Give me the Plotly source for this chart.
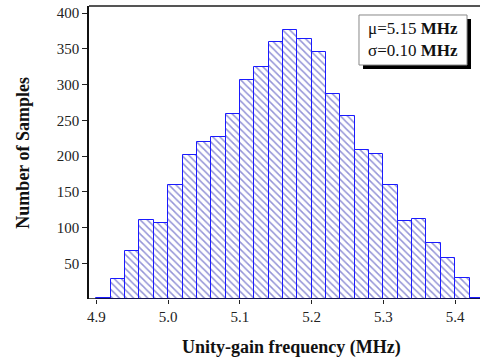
import plotly.graph_objects as go

# Histogram of unity-gain frequency (bin width 0.02 MHz)
bin_centers = [4.91, 4.93, 4.95, 4.97, 4.99, 5.01, 5.03, 5.05, 5.07, 5.09,
               5.11, 5.13, 5.15, 5.17, 5.19, 5.21, 5.23, 5.25, 5.27, 5.29,
               5.31, 5.33, 5.35, 5.37, 5.39, 5.41, 5.43]
counts = [2, 28, 67, 110, 107, 160, 201, 220, 226, 259,
          307, 324, 360, 377, 364, 345, 287, 256, 209, 203,
          160, 109, 112, 79, 58, 29, 2]
bin_width = 0.02

x_ticks = [4.9, 5.0, 5.1, 5.2, 5.3, 5.4]
x_tick_text = ["4.9", "5.0", "5.1", "5.2", "5.3", "5.4"]
y_ticks = [50, 100, 150, 200, 250, 300, 350, 400]

stats_text = "μ=5.15 <b>MHz</b><br>σ=0.10 <b>MHz</b>"

SERIF = "Liberation Serif, Times New Roman, serif"

fig = go.Figure()
fig.add_trace(go.Bar(
    x=bin_centers,
    y=counts,
    width=[bin_width] * len(bin_centers),
    marker=dict(
        color="white",
        line=dict(color="#1a1aff", width=1),
        pattern=dict(shape="\\", fgcolor="#2a2ab0", bgcolor="white",
                     size=5, solidity=0.3),
    ),
    showlegend=False,
))

fig.update_layout(
    width=480, height=360,
    margin=dict(l=89, r=0, t=6, b=61),
    paper_bgcolor="white", plot_bgcolor="white",
    bargap=0,
    font=dict(family=SERIF, size=15, color="#222"),
    xaxis=dict(
        range=[4.8897, 5.4346],
        tickvals=x_ticks, ticktext=x_tick_text,
        ticks="outside", ticklen=4, tickwidth=1, tickcolor="#222",
        showline=False, showgrid=False, zeroline=False,
        tickfont=dict(family=SERIF, size=15, color="#222"),
    ),
    yaxis=dict(
        range=[0, 410],
        tickvals=y_ticks,
        ticks="outside", ticklen=5, tickwidth=1, tickcolor="#222",
        showline=True, linecolor="#111", linewidth=1.5,
        showgrid=False, zeroline=False,
        tickfont=dict(family=SERIF, size=15, color="#222"),
    ),
    shapes=[
        # bottom axis line, drawn over the bar bases
        dict(type="line", xref="paper", yref="y", x0=0, x1=1, y0=0, y1=0,
             layer="above", line=dict(color="#111", width=1.5)),
        # top frame line
        dict(type="line", xref="paper", yref="paper", x0=0, x1=1, y0=1, y1=1,
             line=dict(color="#555", width=2)),
        # drop shadow of the statistics box
        dict(type="rect", xref="paper", yref="paper",
             x0=0.7008, x1=0.977, y0=0.785, y1=0.9556,
             fillcolor="black", line=dict(width=0)),
        # statistics box
        dict(type="rect", xref="paper", yref="paper",
             x0=0.6905, x1=0.9668, y0=0.7986, y1=0.9693,
             fillcolor="white", line=dict(color="#888", width=1)),
    ],
    annotations=[
        dict(text=stats_text, xref="paper", yref="paper",
             x=0.8286, y=0.884, xanchor="center", yanchor="middle",
             showarrow=False, align="center",
             font=dict(family=SERIF, size=17, color="#111")),
        dict(text="<b>Unity-gain frequency (MHz)</b>", xref="paper", yref="paper",
             x=(291 - 89) / 391, y=-0.167, xanchor="center", yanchor="middle",
             showarrow=False,
             font=dict(family=SERIF, size=18, color="#111")),
        dict(text="<b>Number of Samples</b>", xref="paper", yref="paper",
             x=-0.171, y=0.5, xanchor="center", yanchor="middle",
             showarrow=False, textangle=-90,
             font=dict(family=SERIF, size=18, color="#111")),
    ],
)

fig.write_html("out.html")
